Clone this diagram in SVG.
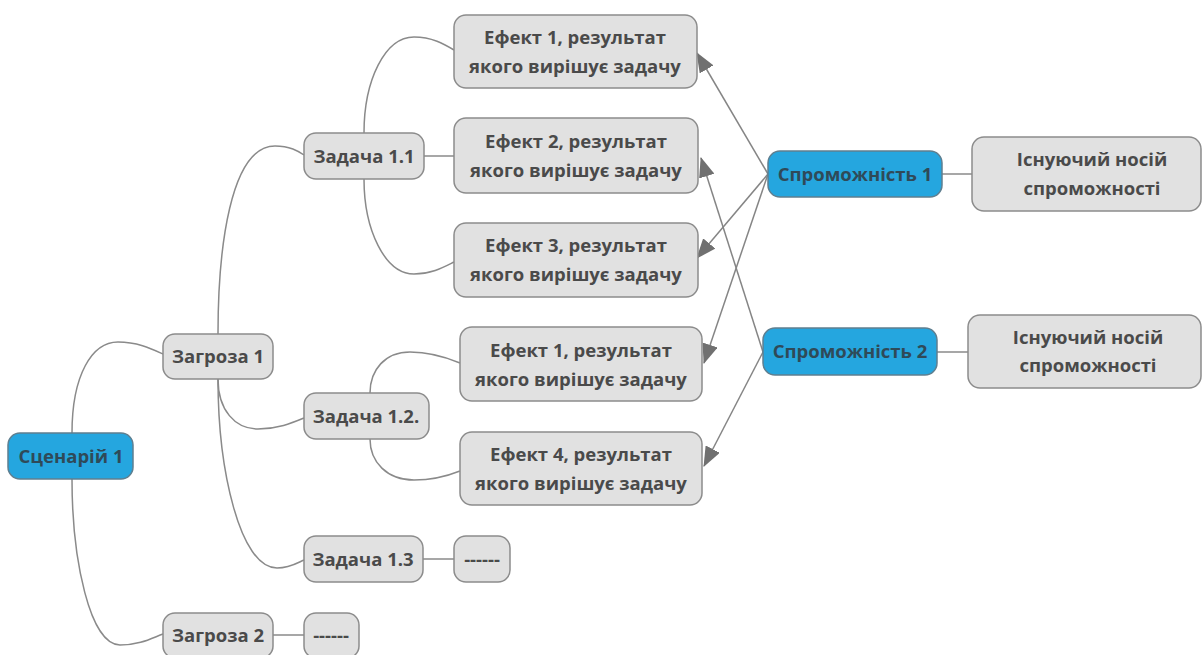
<svg xmlns="http://www.w3.org/2000/svg" width="1202" height="655" viewBox="0 0 1202 655">
<style>
.n rect{fill:#e1e1e1;stroke:#8c8c8c;stroke-width:1.5}
.b rect{fill:#25a6df;stroke:#5f7f90;stroke-width:1.5}
text{font-family:"Open Sans","Noto Sans",sans-serif;font-weight:bold;font-size:18.5px;fill:#4a4a4a;text-anchor:middle}
.b text{fill:#2f4a58}
.c path,.c line{fill:none;stroke:#8a8a8a;stroke-width:1.5}
.a line{stroke:#858585;stroke-width:1.5;marker-end:url(#ah)}
</style>
<defs>
<marker id="ah" markerUnits="userSpaceOnUse" markerWidth="20" markerHeight="16" viewBox="0 0 20 16" refX="19" refY="8" orient="auto">
<path d="M0,0 L20,8 L0,16 Z" fill="#707070"/>
</marker>
</defs>
<rect width="1202" height="655" fill="#fff"/>
<g id="connectors" class="c">
<path d="M72,433 C72,375 92,342 118,342 C138,342 152,349 163,354"/>
<path d="M72,479 C72,560 90,645 120,645 C140,645 152,638 163,634"/>
<path d="M218,334 C218,250 230,146 275,146 C290,146 298,151 304,155"/>
<path d="M218,379 C218,410 235,429 258,429 C278,429 292,423 304,418"/>
<path d="M218,379 C218,470 240,568 277,568 C290,568 297,563 304,560"/>
<path d="M364,133 C364,80 385,37 414,37 C432,37 444,44 454,50"/>
<line x1="424" y1="156" x2="454" y2="156"/>
<path d="M364,179 C364,230 385,274 414,274 C432,274 444,267 454,262"/>
<path d="M370,393 C370,370 385,352 410,352 C432,352 448,358 460,363"/>
<path d="M370,439 C370,462 387,480 414,480 C434,480 450,475 460,471"/>
<line x1="423" y1="559" x2="454" y2="559"/>
<line x1="273" y1="635" x2="304" y2="635"/>
<line x1="942" y1="174" x2="972" y2="174"/>
<line x1="937" y1="352" x2="968" y2="352"/>
<g class="a">
<line x1="768" y1="174" x2="697" y2="53"/>
<line x1="768" y1="174" x2="697" y2="258"/>
<line x1="768" y1="174" x2="704" y2="363"/>
<line x1="763" y1="352" x2="701" y2="158"/>
<line x1="763" y1="352" x2="704" y2="466"/>
</g>
</g>
<g id="scenario1" class="b"><rect x="8" y="433" width="125" height="46" rx="12"/><text x="71" y="463">Сценарій 1</text></g>
<g id="threat1" class="n"><rect x="163" y="334" width="110" height="45" rx="12"/><text x="218" y="363">Загроза 1</text></g>
<g id="threat2" class="n"><rect x="163" y="613" width="110" height="45" rx="12"/><text x="218" y="642">Загроза 2</text></g>
<g id="dash2" class="n"><rect x="304" y="613" width="55" height="45" rx="12"/><text x="331" y="642">------</text></g>
<g id="task11" class="n"><rect x="304" y="133" width="120" height="46" rx="12"/><text x="364" y="163">Задача 1.1</text></g>
<g id="task12" class="n"><rect x="304" y="393" width="125" height="46" rx="12"/><text x="366" y="423">Задача 1.2.</text></g>
<g id="task13" class="n"><rect x="304" y="536" width="119" height="46" rx="12"/><text x="363" y="566">Задача 1.3</text></g>
<g id="dash13" class="n"><rect x="454" y="536" width="56" height="46" rx="12"/><text x="482" y="566">------</text></g>
<g id="effect1a" class="n"><rect x="454" y="15" width="243" height="73" rx="12"/><text x="575" y="44">Ефект 1, результат</text><text x="575" y="73">якого вирішує задачу</text></g>
<g id="effect2" class="n"><rect x="454" y="118" width="244" height="75" rx="12"/><text x="576" y="148">Ефект 2, результат</text><text x="576" y="177">якого вирішує задачу</text></g>
<g id="effect3" class="n"><rect x="454" y="223" width="244" height="74" rx="12"/><text x="576" y="252">Ефект 3, результат</text><text x="576" y="281">якого вирішує задачу</text></g>
<g id="effect1b" class="n"><rect x="460" y="327" width="242" height="74" rx="12"/><text x="581" y="357">Ефект 1, результат</text><text x="581" y="386">якого вирішує задачу</text></g>
<g id="effect4" class="n"><rect x="460" y="432" width="242" height="73" rx="12"/><text x="581" y="461">Ефект 4, результат</text><text x="581" y="490">якого вирішує задачу</text></g>
<g id="cap1" class="b"><rect x="768" y="151" width="174" height="46" rx="12"/><text x="855" y="181">Спроможність 1</text></g>
<g id="cap2" class="b"><rect x="763" y="328" width="174" height="47" rx="12"/><text x="850" y="358">Спроможність 2</text></g>
<g id="carrier1" class="n"><rect x="972" y="137" width="229" height="74" rx="12"/><text x="1092" y="166">Існуючий носій</text><text x="1092" y="195">спроможності</text></g>
<g id="carrier2" class="n"><rect x="968" y="315" width="233" height="73" rx="12"/><text x="1088" y="344">Існуючий носій</text><text x="1088" y="372">спроможності</text></g>
</svg>
